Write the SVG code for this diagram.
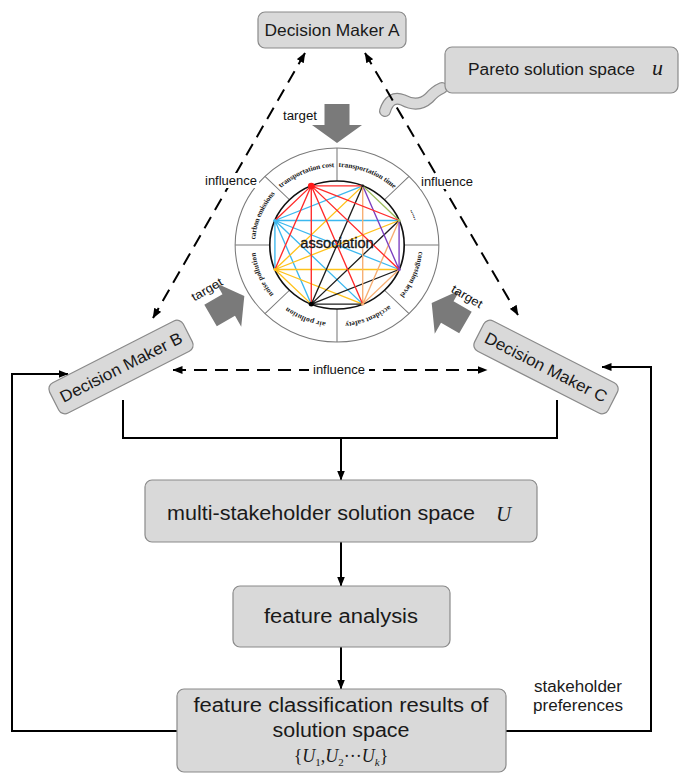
<svg xmlns="http://www.w3.org/2000/svg" width="681" height="773" viewBox="0 0 681 773">
<style>
.box{fill:#d9d9d9;stroke:#8a8a8a;stroke-width:1.2}
.t{font-family:"Liberation Sans",Arial,sans-serif;fill:#1a1a1a}
.m{font-family:"Liberation Serif","Times New Roman",serif;fill:#1a1a1a;font-style:italic}
.lbl{font-family:"Liberation Sans",Arial,sans-serif;font-size:12px;fill:#111}
.rt{font-family:"Liberation Serif","Times New Roman",serif;font-size:7.2px;font-weight:bold;fill:#222}
.dash{fill:none;stroke:#000;stroke-width:2;stroke-dasharray:13 8}
.ln{fill:none;stroke:#000;stroke-width:2}
.e{fill:none;stroke-width:1.3}
.tg{fill:#7a7a7a}
</style>
<defs>
<marker id="ah" viewBox="0 0 10 8" refX="9.5" refY="4" markerWidth="10" markerHeight="8" markerUnits="userSpaceOnUse" orient="auto-start-reverse">
<path d="M0,0 L10,4 L0,8 z" fill="#000"/>
</marker>
<path id="tgt" d="M-12.5,-19 L12.5,-19 L12.5,2 L25,2 L0,20 L-25,2 L-12.5,2 z"/>
<path id="s1" d="M-55.15,-55.15 A78,78 0 0 1 0,-78"/>
<path id="s2" d="M0,-78 A78,78 0 0 1 55.15,-55.15"/>
<path id="s3" d="M55.15,-55.15 A78,78 0 0 1 78,0"/>
<path id="s4" d="M78,0 A78,78 0 0 1 55.15,55.15"/>
<path id="s5" d="M55.15,55.15 A78,78 0 0 1 0,78"/>
<path id="s6" d="M0,78 A78,78 0 0 1 -55.15,55.15"/>
<path id="s7" d="M-55.15,55.15 A78,78 0 0 1 -78,0"/>
<path id="s8" d="M-78,0 A78,78 0 0 1 -55.15,-55.15"/>
</defs>

<g id="association-wheel" transform="translate(337,245) scale(1.05,1)">
<circle r="97" fill="#fff" stroke="#7a7a7a" stroke-width="1"/>
<path d="M0,-64 L0,-97 M45.25,-45.25 L68.59,-68.59 M64,0 L97,0 M45.25,45.25 L68.59,68.59 M0,64 L0,97 M-45.25,45.25 L-68.59,68.59 M-64,0 L-97,0 M-45.25,-45.25 L-68.59,-68.59" stroke="#7a7a7a" stroke-width="1" fill="none"/>
<text class="rt"><textPath href="#s1" startOffset="50%" text-anchor="middle" textLength="56" lengthAdjust="spacing">transportation cost</textPath></text>
<text class="rt"><textPath href="#s2" startOffset="50%" text-anchor="middle" textLength="58" lengthAdjust="spacing">transportation time</textPath></text>
<text class="rt"><textPath href="#s3" startOffset="50%" text-anchor="middle">......</textPath></text>
<text class="rt"><textPath href="#s4" startOffset="50%" text-anchor="middle" textLength="48" lengthAdjust="spacing">congestion level</textPath></text>
<text class="rt"><textPath href="#s5" startOffset="50%" text-anchor="middle" textLength="46" lengthAdjust="spacing">accident safety</textPath></text>
<text class="rt"><textPath href="#s6" startOffset="50%" text-anchor="middle" textLength="40" lengthAdjust="spacing">air pollution</textPath></text>
<text class="rt"><textPath href="#s7" startOffset="50%" text-anchor="middle" textLength="46" lengthAdjust="spacing">noise pollution</textPath></text>
<text class="rt"><textPath href="#s8" startOffset="50%" text-anchor="middle" textLength="50" lengthAdjust="spacing">carbon emissions</textPath></text>
<circle r="64" fill="#fff" stroke="#111" stroke-width="1.6"/>
<path class="e" stroke="#3cb8ef" d="M-59.13,-24.49 L24.49,-59.13 M-59.13,-24.49 L59.13,-24.49 M-59.13,-24.49 L59.13,24.49 M-59.13,-24.49 L24.49,59.13 M-59.13,-24.49 L-24.49,59.13 M-59.13,-24.49 L-59.13,24.49"/>
<path class="e" stroke="#ffc21a" d="M-59.13,24.49 L24.49,-59.13 M-59.13,24.49 L59.13,-24.49 M-59.13,24.49 L59.13,24.49 M-59.13,24.49 L24.49,59.13 M-59.13,24.49 L-24.49,59.13"/>
<path class="e" stroke="#1e1e1e" d="M-24.49,59.13 L24.49,-59.13 M-24.49,59.13 L59.13,-24.49 M-24.49,59.13 L59.13,24.49 M-24.49,59.13 L24.49,59.13"/>
<path class="e" stroke="#f7ae72" d="M24.49,59.13 L24.49,-59.13 M24.49,59.13 L59.13,-24.49 M24.49,59.13 L59.13,24.49"/>
<path class="e" stroke="#7b3fc0" d="M59.13,24.49 L24.49,-59.13 M59.13,24.49 L59.13,-24.49"/>
<path class="e" stroke="#9bbb59" d="M59.13,-24.49 L24.49,-59.13"/>
<path class="e" stroke="#ff2b2b" d="M-24.49,-59.13 L24.49,-59.13 M-24.49,-59.13 L59.13,-24.49 M-24.49,-59.13 L59.13,24.49 M-24.49,-59.13 L24.49,59.13 M-24.49,-59.13 L-24.49,59.13 M-24.49,-59.13 L-59.13,24.49 M-24.49,-59.13 L-59.13,-24.49"/>
<circle cx="-24.49" cy="-59.13" r="3.2" fill="#ff1a1a"/>
<circle cx="-24.49" cy="59.13" r="2.4" fill="#000"/>
<circle cx="-59.13" cy="-24.49" r="1.6" fill="#3cb8ef"/>
<circle cx="59.13" cy="24.49" r="1.6" fill="#7b3fc0"/>
<circle cx="59.13" cy="-24.49" r="1.4" fill="#9bbb59"/>
<circle cx="-59.13" cy="24.49" r="1.4" fill="#ffc21a"/>
<circle cx="24.49" cy="59.13" r="1.4" fill="#f7ae72"/>
<circle cx="24.49" cy="-59.13" r="1.4" fill="#1e1e1e"/>
<text x="0" y="3" text-anchor="middle" class="t" font-size="14" fill="#111" stroke="#111" stroke-width="0.3">association</text>
</g>

<g id="targets">
<use href="#tgt" class="tg" transform="translate(337,123)"/>
<use href="#tgt" class="tg" transform="translate(227,306) rotate(-120)"/>
<use href="#tgt" class="tg" transform="translate(449,313) rotate(120)"/>
<text class="lbl" x="300" y="120" text-anchor="middle" textLength="34" lengthAdjust="spacingAndGlyphs">target</text>
<text class="lbl" text-anchor="middle" transform="translate(209,293) rotate(-30)" textLength="34" lengthAdjust="spacingAndGlyphs">target</text>
<text class="lbl" text-anchor="middle" transform="translate(465,300) rotate(30)" textLength="34" lengthAdjust="spacingAndGlyphs">target</text>
</g>

<g id="pareto">
<path d="M385,111 Q390,95 403,100 Q418,108 429,98 Q435,91 442,88" fill="none" stroke="#8a8a8a" stroke-width="12" stroke-linecap="round"/>
<path d="M385,111 Q390,95 403,100 Q418,108 429,98 Q435,91 442,88" fill="none" stroke="#d9d9d9" stroke-width="9.6" stroke-linecap="round"/>
<rect class="box" x="445" y="47" width="233" height="46" rx="7"/>
<text class="t" x="468" y="75" font-size="16" textLength="167" lengthAdjust="spacingAndGlyphs">Pareto solution space</text>
<text class="m" x="652" y="75" font-size="22">u</text>
</g>

<g id="connectors">
<line class="dash" x1="305" y1="53" x2="153" y2="318" marker-start="url(#ah)" marker-end="url(#ah)"/>
<line class="dash" x1="365" y1="53" x2="518" y2="315" marker-start="url(#ah)" marker-end="url(#ah)"/>
<line class="dash" x1="173" y1="370" x2="487" y2="370" marker-start="url(#ah)" marker-end="url(#ah)"/>
<rect x="204" y="173" width="55" height="15" fill="#fff"/>
<rect x="420" y="174" width="54" height="15" fill="#fff"/>
<rect x="309" y="362" width="60" height="16" fill="#fff"/>
<text class="lbl" x="231" y="185" text-anchor="middle" textLength="52" lengthAdjust="spacingAndGlyphs">influence</text>
<text class="lbl" x="447" y="186" text-anchor="middle" textLength="52" lengthAdjust="spacingAndGlyphs">influence</text>
<text class="lbl" x="339" y="374" text-anchor="middle" textLength="52" lengthAdjust="spacingAndGlyphs">influence</text>
<polyline class="ln" points="123,400 123,438 557,438 557,400"/>
<line class="ln" x1="341" y1="438" x2="341" y2="480" marker-end="url(#ah)"/>
<line class="ln" x1="341" y1="542" x2="341" y2="586" marker-end="url(#ah)"/>
<line class="ln" x1="341" y1="647" x2="341" y2="689" marker-end="url(#ah)"/>
<polyline class="ln" points="177,731 12,731 12,374 68,374" marker-end="url(#ah)"/>
<polyline class="ln" points="506,731 651,731 651,367 602,367" marker-end="url(#ah)"/>
<text class="t" x="578" y="692" font-size="16" text-anchor="middle" textLength="88" lengthAdjust="spacingAndGlyphs">stakeholder</text>
<text class="t" x="578" y="711" font-size="16" text-anchor="middle" textLength="90" lengthAdjust="spacingAndGlyphs">preferences</text>
</g>

<g id="decision-maker-a">
<rect class="box" x="258" y="12" width="148" height="36" rx="7"/>
<text class="t" x="332" y="36" font-size="16.5" text-anchor="middle" textLength="135" lengthAdjust="spacingAndGlyphs">Decision Maker A</text>
</g>

<g id="decision-maker-b" transform="translate(121,367) rotate(-27)">
<rect class="box" x="-75" y="-17" width="150" height="34" rx="7"/>
<text class="t" x="0" y="6" font-size="16.5" text-anchor="middle" textLength="135" lengthAdjust="spacingAndGlyphs">Decision Maker B</text>
</g>

<g id="decision-maker-c" transform="translate(546,367) rotate(27)">
<rect class="box" x="-75" y="-17" width="150" height="34" rx="7"/>
<text class="t" x="0" y="6" font-size="16.5" text-anchor="middle" textLength="135" lengthAdjust="spacingAndGlyphs">Decision Maker C</text>
</g>

<g id="multi-stakeholder">
<rect class="box" x="145" y="480" width="392" height="62" rx="7"/>
<text class="t" x="167" y="520" font-size="20" textLength="308" lengthAdjust="spacingAndGlyphs">multi-stakeholder solution space</text>
<text class="m" x="496" y="521" font-size="21">U</text>
</g>

<g id="feature-analysis">
<rect class="box" x="233" y="586" width="217" height="61" rx="7"/>
<text class="t" x="341" y="623" font-size="20" text-anchor="middle" textLength="154" lengthAdjust="spacingAndGlyphs">feature analysis</text>
</g>

<g id="feature-classification">
<rect class="box" x="177" y="689" width="329" height="83" rx="7"/>
<text class="t" x="341" y="712" font-size="20" text-anchor="middle" textLength="295" lengthAdjust="spacingAndGlyphs">feature classification results of</text>
<text class="t" x="341" y="737" font-size="20" text-anchor="middle" textLength="137" lengthAdjust="spacingAndGlyphs">solution space</text>
<text x="341" y="762" font-family="Liberation Serif,'Times New Roman',serif" font-size="18" fill="#1a1a1a" text-anchor="middle">{<tspan font-style="italic">U</tspan><tspan font-size="11" dy="4">1</tspan><tspan dy="-4">,</tspan><tspan font-style="italic">U</tspan><tspan font-size="11" dy="4">2</tspan><tspan dy="-4">···</tspan><tspan font-style="italic">U</tspan><tspan font-size="11" font-style="italic" dy="4">k</tspan><tspan dy="-4">}</tspan></text>
</g>
</svg>
